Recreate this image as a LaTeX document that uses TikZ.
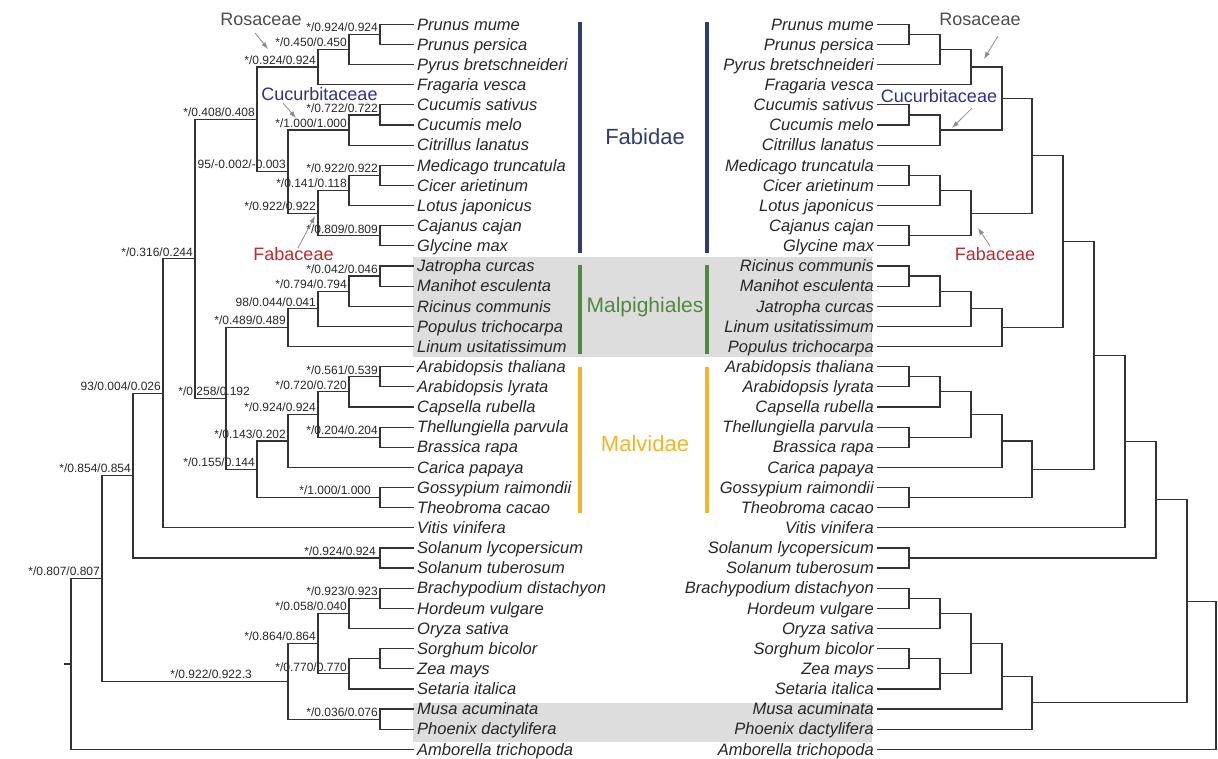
\documentclass[tikz,border=0pt]{standalone}
\usepackage{fontspec}
\setmainfont{Liberation Sans}
\usetikzlibrary{arrows.meta}

\definecolor{fabcol}{HTML}{2E3D6B}
\definecolor{malpcol}{HTML}{4F8A3C}
\definecolor{malvcol}{HTML}{F0B52A}
\definecolor{boxgray}{HTML}{DDDDDD}
\definecolor{rosacol}{HTML}{4D4D4D}
\definecolor{cuccol}{HTML}{2E2E98}
\definecolor{fabacol}{HTML}{C0282E}

\tikzset{
  branch/.style={line width=1.2pt, draw=black!80, line cap=rect},
  lname/.style={anchor=west, inner xsep=4pt, inner ysep=0pt, text height=11.5pt, text depth=0pt,
    font=\fontsize{16.5}{18}\selectfont\itshape, text=black!85},
  rname/.style={lname, anchor=east},
  bs/.style={anchor=south east, inner xsep=2pt, inner ysep=2.5pt, text height=8.5pt, text depth=0pt,
    font=\fontsize{12}{13}\selectfont, text=black!85},
  family/.style={font=\fontsize{18}{20}\selectfont},
  pointer/.style={draw=black!45, line width=0.8pt, -{Latex[length=7pt,width=5pt]}},
  grpbar/.style={line width=4pt},
  grplabel/.style={font=\fontsize{22}{24}\selectfont},
}

\begin{document}
\begin{tikzpicture}[x=1pt,y=-20.14pt]
  \useasboundingbox (0,-1.2066) rectangle (1218,36.43);

  % shaded rows
  \fill[boxgray] (413,11.55) rectangle (872,16.52);
  \fill[boxgray] (413,33.7) rectangle (872,35.64);

  % group bars and names
  \draw[grpbar,fabcol] (580,-0.11) -- (580,11.36);
  \draw[grpbar,fabcol] (707,-0.11) -- (707,11.36);
  \draw[grpbar,malpcol] (580,11.95) -- (580,16.37);
  \draw[grpbar,malpcol] (707,11.95) -- (707,16.37);
  \draw[grpbar,malvcol] (580,17.02) -- (580,24.26);
  \draw[grpbar,malvcol] (707,17.02) -- (707,24.26);
  \node[grplabel,text=fabcol] (fabidae) at (645,5.6) {Fabidae};
  \node[grplabel,text=malpcol,font=\fontsize{21}{23}\selectfont] (malpig) at (645,14.04) {Malpighiales};
  \node[grplabel,text=malvcol] (malvid) at (645,20.84) {Malvidae};

  % leaves
  \foreach \nm [count=\i from 0] in {Prunus mume, Prunus persica, Pyrus bretschneideri,
      Fragaria vesca, Cucumis sativus, Cucumis melo, Citrillus lanatus, Medicago truncatula,
      Cicer arietinum, Lotus japonicus, Cajanus cajan, Glycine max, Jatropha curcas,
      Manihot esculenta, Ricinus communis, Populus trichocarpa, Linum usitatissimum,
      Arabidopsis thaliana, Arabidopsis lyrata, Capsella rubella, Thellungiella parvula,
      Brassica rapa, Carica papaya, Gossypium raimondii, Theobroma cacao, Vitis vinifera,
      Solanum lycopersicum, Solanum tuberosum, Brachypodium distachyon, Hordeum vulgare,
      Oryza sativa, Sorghum bicolor, Zea mays, Setaria italica, Musa acuminata,
      Phoenix dactylifera, Amborella trichopoda}
    \node[lname] (L\i) at (413,\i) {\nm};
  \foreach \nm [count=\i from 0] in {Prunus mume, Prunus persica, Pyrus bretschneideri,
      Fragaria vesca, Cucumis sativus, Cucumis melo, Citrillus lanatus, Medicago truncatula,
      Cicer arietinum, Lotus japonicus, Cajanus cajan, Glycine max, Ricinus communis,
      Manihot esculenta, Jatropha curcas, Linum usitatissimum, Populus trichocarpa,
      Arabidopsis thaliana, Arabidopsis lyrata, Capsella rubella, Thellungiella parvula,
      Brassica rapa, Carica papaya, Gossypium raimondii, Theobroma cacao, Vitis vinifera,
      Solanum lycopersicum, Solanum tuberosum, Brachypodium distachyon, Hordeum vulgare,
      Oryza sativa, Sorghum bicolor, Zea mays, Setaria italica, Musa acuminata,
      Phoenix dactylifera, Amborella trichopoda}
    \node[rname] (R\i) at (878,\i) {\nm};

  % left tree
  \coordinate (a1) at (380,0.5);       \node[bs] at (a1) {*/0.924/0.924};
  \coordinate (a2) at (349,1.25);      \node[bs] at (a2) {*/0.450/0.450};
  \coordinate (a3) at (318,2.125);     \node[bs] at (a3) {*/0.924/0.924};
  \coordinate (b1) at (380,4.5);       \node[bs] at (b1) {*/0.722/0.722};
  \coordinate (b2) at (349,5.25);      \node[bs] at (b2) {*/1.000/1.000};
  \coordinate (c1) at (380,7.5);       \node[bs] at (c1) {*/0.922/0.922};
  \coordinate (c2) at (349,8.25);      \node[bs] at (c2) {*/0.141/0.118};
  \coordinate (c3) at (380,10.5);      \node[bs] at (c3) {*/0.809/0.809};
  \coordinate (c4) at (318,9.375);     \node[bs] at (c4) {*/0.922/0.922};
  \coordinate (d1) at (288,7.3125);    \node[bs] at (d1) {95/-0.002/-0.003};
  \coordinate (d2) at (257,4.71875);   \node[bs] at (d2) {*/0.408/0.408};
  \coordinate (e1) at (380,12.5);      \node[bs] at (e1) {*/0.042/0.046};
  \coordinate (e2) at (349,13.25);     \node[bs] at (e2) {*/0.794/0.794};
  \coordinate (e3) at (318,14.125);    \node[bs] at (e3) {98/0.044/0.041};
  \coordinate (e4) at (288,15.0625);   \node[bs] at (e4) {*/0.489/0.489};
  \coordinate (f1) at (380,17.5);      \node[bs] at (f1) {*/0.561/0.539};
  \coordinate (f2) at (349,18.25);     \node[bs] at (f2) {*/0.720/0.720};
  \coordinate (f3) at (380,20.5);      \node[bs] at (f3) {*/0.204/0.204};
  \coordinate (f4) at (318,19.375);    \node[bs] at (f4) {*/0.924/0.924};
  \coordinate (f5) at (288,20.6875);   \node[bs] at (f5) {*/0.143/0.202};
  \coordinate (f6) at (380,23.5);      \node[bs] at ([xshift=-7pt]f6) {*/1.000/1.000};
  \coordinate (f7) at (257,22.09375);  \node[bs] at (f7) {*/0.155/0.144};
  \coordinate (g1) at (226,18.578);    \node[bs] at ([xshift=26pt]g1) {*/0.258/0.192};
  \coordinate (g2) at (195,11.648);    \node[bs] at (g2) {*/0.316/0.244};
  \coordinate (g3) at (163,18.324);    \node[bs] at (g3) {93/0.004/0.026};
  \coordinate (h1) at (380,26.5);      \node[bs] at ([xshift=-2pt]h1) {*/0.924/0.924};
  \coordinate (g4) at (133,22.412);    \node[bs] at (g4) {*/0.854/0.854};
  \coordinate (m1) at (380,28.5);      \node[bs] at (m1) {*/0.923/0.923};
  \coordinate (m2) at (349,29.25);     \node[bs] at (m2) {*/0.058/0.040};
  \coordinate (m3) at (380,31.5);
  \coordinate (m4) at (349,32.25);     \node[bs] at (m4) {*/0.770/0.770};
  \coordinate (m5) at (318,30.75);     \node[bs] at (m5) {*/0.864/0.864};
  \coordinate (m6) at (380,34.5);      \node[bs] at (m6) {*/0.036/0.076};
  \coordinate (m7) at (288,32.625);    \node[bs] at ([xshift=-34pt]m7) {*/0.922/0.922.3};
  \coordinate (g5) at (102,27.519);    \node[bs] at (g5) {*/0.807/0.807};
  \coordinate (root) at (71,31.759);
  \coordinate (stub) at (65,31.759);

  \draw[branch] (a1) |- (L0.west) (a1) |- (L1.west);
  \draw[branch] (a2) |- (a1) (a2) |- (L2.west);
  \draw[branch] (a3) |- (a2) (a3) |- (L3.west);
  \draw[branch] (b1) |- (L4.west) (b1) |- (L5.west);
  \draw[branch] (b2) |- (b1) (b2) |- (L6.west);
  \draw[branch] (c1) |- (L7.west) (c1) |- (L8.west);
  \draw[branch] (c2) |- (c1) (c2) |- (L9.west);
  \draw[branch] (c3) |- (L10.west) (c3) |- (L11.west);
  \draw[branch] (c4) |- (c2) (c4) |- (c3);
  \draw[branch] (d1) |- (b2) (d1) |- (c4);
  \draw[branch] (d2) |- (a3) (d2) |- (d1);
  \draw[branch] (e1) |- (L12.west) (e1) |- (L13.west);
  \draw[branch] (e2) |- (e1) (e2) |- (L14.west);
  \draw[branch] (e3) |- (e2) (e3) |- (L15.west);
  \draw[branch] (e4) |- (e3) (e4) |- (L16.west);
  \draw[branch] (f1) |- (L17.west) (f1) |- (L18.west);
  \draw[branch] (f2) |- (f1) (f2) |- (L19.west);
  \draw[branch] (f3) |- (L20.west) (f3) |- (L21.west);
  \draw[branch] (f4) |- (f2) (f4) |- (f3);
  \draw[branch] (f5) |- (f4) (f5) |- (L22.west);
  \draw[branch] (f6) |- (L23.west) (f6) |- (L24.west);
  \draw[branch] (f7) |- (f5) (f7) |- (f6);
  \draw[branch] (g1) |- (e4) (g1) |- (f7);
  \draw[branch] (g2) |- (d2) (g2) |- (g1);
  \draw[branch] (g3) |- (g2) (g3) |- (L25.west);
  \draw[branch] (h1) |- (L26.west) (h1) |- (L27.west);
  \draw[branch] (g4) |- (g3) (g4) |- (h1);
  \draw[branch] (m1) |- (L28.west) (m1) |- (L29.west);
  \draw[branch] (m2) |- (m1) (m2) |- (L30.west);
  \draw[branch] (m3) |- (L31.west) (m3) |- (L32.west);
  \draw[branch] (m4) |- (m3) (m4) |- (L33.west);
  \draw[branch] (m5) |- (m2) (m5) |- (m4);
  \draw[branch] (m6) |- (L34.west) (m6) |- (L35.west);
  \draw[branch] (m7) |- (m5) (m7) |- (m6);
  \draw[branch] (g5) |- (g4) (g5) |- (m7);
  \draw[branch] (root) |- (g5) (root) |- (L36.west);
  \draw[branch] (root) -- (stub);

  % right tree
  \coordinate (r1) at (909,0.5);
  \coordinate (r2) at (940,1.25);
  \coordinate (r3) at (971,2.125);
  \coordinate (r4) at (909,4.5);
  \coordinate (r5) at (940,5.25);
  \coordinate (r6) at (1002,3.6875);
  \coordinate (r7) at (909,7.5);
  \coordinate (r8) at (940,8.25);
  \coordinate (r9) at (909,10.5);
  \coordinate (r10) at (971,9.375);
  \coordinate (r11) at (1032,6.53125);
  \coordinate (r12) at (909,12.5);
  \coordinate (r13) at (940,13.25);
  \coordinate (r14) at (971,14.125);
  \coordinate (r15) at (1002,15.0625);
  \coordinate (r16) at (1063,10.796875);
  \coordinate (r17) at (909,17.5);
  \coordinate (r18) at (940,18.25);
  \coordinate (r19) at (909,20.5);
  \coordinate (r20) at (971,19.375);
  \coordinate (r21) at (1002,20.6875);
  \coordinate (r22) at (909,23.5);
  \coordinate (r23) at (1032,22.09375);
  \coordinate (r24) at (1094,16.4453);
  \coordinate (r25) at (1125,20.7227);
  \coordinate (r26) at (909,26.5);
  \coordinate (r27) at (1156,23.6113);
  \coordinate (r28) at (909,28.5);
  \coordinate (r29) at (940,29.25);
  \coordinate (r30) at (909,31.5);
  \coordinate (r31) at (940,32.25);
  \coordinate (r32) at (971,30.75);
  \coordinate (r33) at (1002,32.375);
  \coordinate (r34) at (1032,33.6875);
  \coordinate (r35) at (1187,28.6494);
  \coordinate (r36) at (1216,32.3247);

  \draw[branch] (r1) |- (R0.east) (r1) |- (R1.east);
  \draw[branch] (r2) |- (r1) (r2) |- (R2.east);
  \draw[branch] (r3) |- (r2) (r3) |- (R3.east);
  \draw[branch] (r4) |- (R4.east) (r4) |- (R5.east);
  \draw[branch] (r5) |- (r4) (r5) |- (R6.east);
  \draw[branch] (r6) |- (r3) (r6) |- (r5);
  \draw[branch] (r7) |- (R7.east) (r7) |- (R8.east);
  \draw[branch] (r8) |- (r7) (r8) |- (R9.east);
  \draw[branch] (r9) |- (R10.east) (r9) |- (R11.east);
  \draw[branch] (r10) |- (r8) (r10) |- (r9);
  \draw[branch] (r11) |- (r6) (r11) |- (r10);
  \draw[branch] (r12) |- (R12.east) (r12) |- (R13.east);
  \draw[branch] (r13) |- (r12) (r13) |- (R14.east);
  \draw[branch] (r14) |- (r13) (r14) |- (R15.east);
  \draw[branch] (r15) |- (r14) (r15) |- (R16.east);
  \draw[branch] (r16) |- (r11) (r16) |- (r15);
  \draw[branch] (r17) |- (R17.east) (r17) |- (R18.east);
  \draw[branch] (r18) |- (r17) (r18) |- (R19.east);
  \draw[branch] (r19) |- (R20.east) (r19) |- (R21.east);
  \draw[branch] (r20) |- (r18) (r20) |- (r19);
  \draw[branch] (r21) |- (r20) (r21) |- (R22.east);
  \draw[branch] (r22) |- (R23.east) (r22) |- (R24.east);
  \draw[branch] (r23) |- (r21) (r23) |- (r22);
  \draw[branch] (r24) |- (r16) (r24) |- (r23);
  \draw[branch] (r25) |- (r24) (r25) |- (R25.east);
  \draw[branch] (r26) |- (R26.east) (r26) |- (R27.east);
  \draw[branch] (r27) |- (r25) (r27) |- (r26);
  \draw[branch] (r28) |- (R28.east) (r28) |- (R29.east);
  \draw[branch] (r29) |- (r28) (r29) |- (R30.east);
  \draw[branch] (r30) |- (R31.east) (r30) |- (R32.east);
  \draw[branch] (r31) |- (r30) (r31) |- (R33.east);
  \draw[branch] (r32) |- (r29) (r32) |- (r31);
  \draw[branch] (r33) |- (r32) (r33) |- (R34.east);
  \draw[branch] (r34) |- (r33) (r34) |- (R35.east);
  \draw[branch] (r35) |- (r27) (r35) |- (r34);
  \draw[branch] (r36) |- (r35) (r36) |- (R36.east);

  % family names with pointers
  \node[family,text=rosacol] (rosL) at (261,-0.26) {Rosaceae};
  \node[family,text=cuccol] (cucL) at (319.5,3.46) {Cucurbitaceae};
  \node[family,text=fabacol] (fabL) at (293.5,11.43) {Fabaceae};
  \node[family,text=rosacol] (rosR) at (980,-0.26) {Rosaceae};
  \node[family,text=cuccol] (cucR) at (939,3.56) {Cucurbitaceae};
  \node[family,text=fabacol] (fabR) at (995,11.4) {Fabaceae};
  \coordinate (rosLa) at (255,0.43);   \coordinate (rosLb) at (268,1.23);
  \coordinate (cucLa) at (283,3.91);   \coordinate (cucLb) at (296,4.65);
  \coordinate (fabLa) at (298,11.1);   \coordinate (fabLb) at (315,9.52);
  \coordinate (rosRa) at (998,0.58);   \coordinate (rosRb) at (984,1.72);
  \coordinate (cucRa) at (972,4.16);   \coordinate (cucRb) at (952,5.15);
  \coordinate (fabRa) at (990,11.01);  \coordinate (fabRb) at (978,10.11);
  \draw[pointer] (rosLa) -- (rosLb);
  \draw[pointer] (cucLa) -- (cucLb);
  \draw[pointer] (fabLa) -- (fabLb);
  \draw[pointer] (rosRa) -- (rosRb);
  \draw[pointer] (cucRa) -- (cucRb);
  \draw[pointer] (fabRa) -- (fabRb);
\end{tikzpicture}
\end{document}
